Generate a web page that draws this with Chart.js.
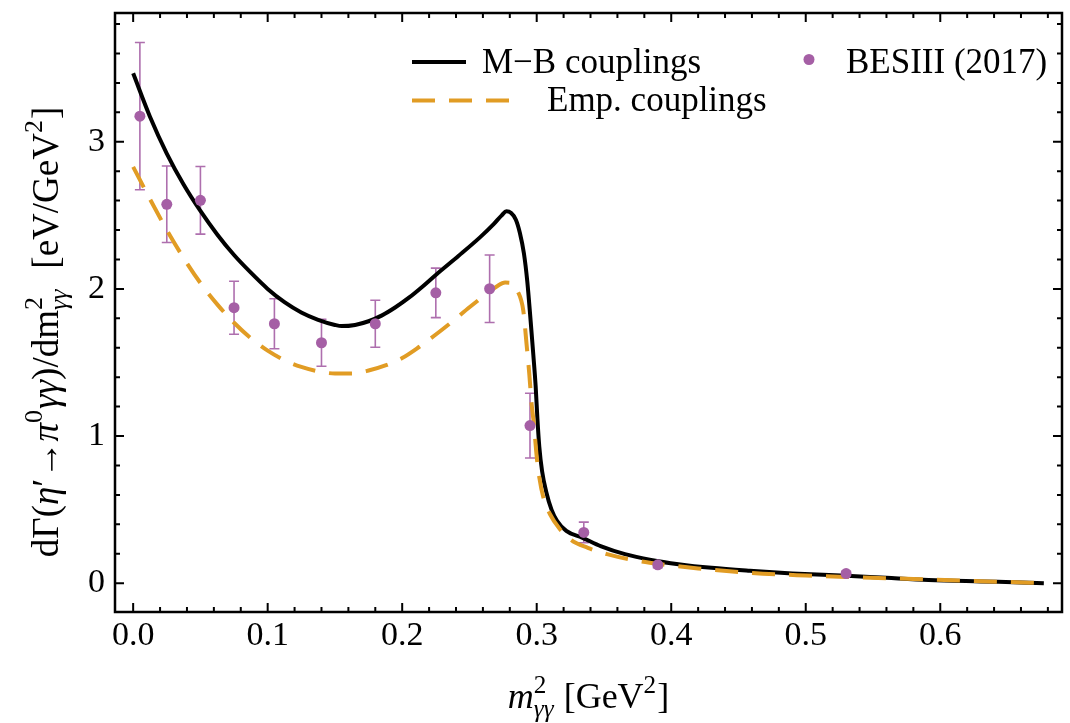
<!DOCTYPE html>
<html><head><meta charset="utf-8">
<script src="https://cdn.jsdelivr.net/npm/chart.js@4/dist/chart.umd.min.js"></script>
<style>html,body{margin:0;padding:0;background:#fff;overflow:hidden}#wrap{width:1070px;height:723px}</style>
</head><body><div id="wrap"><canvas id="c" width="1070" height="723"></canvas></div>
<script>
// ---- data ----
const mbX = [0, 0.0125, 0.025, 0.0375, 0.05, 0.0625, 0.075, 0.0875, 0.1, 0.1125, 0.125, 0.1375, 0.15, 0.155, 0.165, 0.175, 0.185, 0.195, 0.205, 0.215, 0.2256, 0.242, 0.2578, 0.268, 0.274, 0.2775, 0.281, 0.2845, 0.2875, 0.2905, 0.293, 0.2955, 0.2975, 0.2992, 0.3005, 0.3019, 0.304, 0.3071, 0.311, 0.3151, 0.322, 0.3337, 0.348, 0.3656, 0.385, 0.4054, 0.43, 0.4585, 0.49, 0.5302, 0.56, 0.5913, 0.63, 0.66, 0.677];
const mbY = [3.465, 3.17, 2.92, 2.71, 2.53, 2.37, 2.23, 2.11, 2.00, 1.91, 1.84, 1.79, 1.755, 1.747, 1.755, 1.78, 1.82, 1.875, 1.94, 2.015, 2.10, 2.225, 2.35, 2.44, 2.50, 2.527, 2.515, 2.47, 2.38, 2.24, 2.05, 1.78, 1.55, 1.34, 1.12, 0.93, 0.76, 0.62, 0.50, 0.424, 0.355, 0.31, 0.25, 0.197, 0.158, 0.129, 0.104, 0.084, 0.066, 0.050, 0.036, 0.022, 0.012, 0.005, 0.0];
const empX = [0, 0.0125, 0.025, 0.0375, 0.05, 0.0625, 0.075, 0.0875, 0.1, 0.1125, 0.125, 0.1375, 0.15, 0.1625, 0.175, 0.1875, 0.2, 0.2125, 0.225, 0.2375, 0.25, 0.2625, 0.27, 0.2765, 0.2815, 0.2855, 0.290, 0.2925, 0.2945, 0.2962, 0.2979, 0.300, 0.3019, 0.305, 0.3098, 0.317, 0.3257, 0.338, 0.3523, 0.37, 0.3921, 0.42, 0.4585, 0.5, 0.538, 0.58, 0.62, 0.65, 0.677];
const empY = [2.829, 2.61, 2.40, 2.21, 2.04, 1.895, 1.77, 1.665, 1.58, 1.515, 1.47, 1.44, 1.425, 1.425, 1.445, 1.48, 1.53, 1.605, 1.69, 1.78, 1.875, 1.965, 2.015, 2.043, 2.04, 1.99, 1.854, 1.62, 1.42, 1.22, 1.08, 0.86, 0.72, 0.58, 0.47, 0.37, 0.292, 0.24, 0.197, 0.16, 0.129, 0.10, 0.07, 0.052, 0.04, 0.028, 0.016, 0.008, 0.0];
const besX = [0.005, 0.025, 0.05, 0.075, 0.105, 0.14, 0.18, 0.225, 0.265, 0.295, 0.335, 0.39, 0.53];
const besY = [3.174, 2.575, 2.602, 1.872, 1.763, 1.634, 1.763, 1.973, 2.001, 1.071, 0.345, 0.125, 0.065];
const besErr = [0.50, 0.26, 0.23, 0.18, 0.17, 0.16, 0.16, 0.168, 0.229, 0.22, 0.07, 0.02, 0.015];
const xTickValues = [0, 0.1, 0.2, 0.3, 0.4, 0.5, 0.6];
const xTickLabels = ['0.0', '0.1', '0.2', '0.3', '0.4', '0.5', '0.6'];
const yTickValues = [0, 1, 2, 3];
const yTickLabels = ['0', '1', '2', '3'];
const seriesNames = ['M\u2212B couplings', 'Emp. couplings', 'BESIII (2017)'];

const FONT = '"Liberation Serif", "Times New Roman", serif';
const BLACK = '#000000', ORANGE = '#E19C24', PURPLE = '#A55FA5';
const DASH = [23, 14];

function pts(xs, ys) { return xs.map((x, i) => ({x: x, y: ys[i]})); }

function fnt(size, it) { return (it ? 'italic ' : '') + size + 'px ' + FONT; }
function segWidth(ctx, s, size) {
  if (s.gap !== undefined) return s.gap;
  if (s.t !== undefined) { ctx.font = fnt(size, s.it); return ctx.measureText(s.t).width; }
  let w = 0; const ss = size * 0.7;
  if (s.sup) { ctx.font = fnt(ss, false); w = Math.max(w, ctx.measureText(s.sup).width); }
  if (s.sub) { ctx.font = fnt(ss, s.subIt); w = Math.max(w, ctx.measureText(s.sub).width); }
  return w + 1;
}
function richWidth(ctx, segs, size) { return segs.reduce((a, s) => a + segWidth(ctx, s, size), 0); }
function drawRich(ctx, segs, x, y, size) {
  ctx.textBaseline = 'alphabetic'; ctx.textAlign = 'left'; ctx.fillStyle = '#000';
  for (const s of segs) {
    const w = segWidth(ctx, s, size);
    if (s.gap !== undefined) { x += w; continue; }
    if (s.t !== undefined) { ctx.font = fnt(size, s.it); ctx.fillText(s.t, x, y); }
    else {
      const ss = size * 0.7;
      if (s.sup) { ctx.font = fnt(ss, false); ctx.fillText(s.sup, x, y - size * 0.42); }
      if (s.sub) { ctx.font = fnt(ss, s.subIt); ctx.fillText(s.sub, x, y + size * 0.25); }
    }
    x += w;
  }
}
const xTitle = [{t: 'm', it: 1}, {sup: '2', sub: '\u03b3\u03b3', subIt: 1}, {t: ' [GeV'}, {sup: '2'}, {t: ']'}];
const yTitle = [{t: 'd\u0393('}, {t: '\u03b7', it: 1}, {t: '\u2032'}, {t: '\u2192'}, {t: '\u03c0', it: 1}, {sup: '0'}, {t: '\u03b3\u03b3', it: 1}, {t: ')/dm'}, {sup: '2', sub: '\u03b3\u03b3', subIt: 1}, {gap: 20}, {t: '[eV/GeV'}, {sup: '2'}, {t: ']'}];

const decor = {
  id: 'decor',
  beforeDatasetsDraw(chart) {
    const ctx = chart.ctx, xs = chart.scales.x, ys = chart.scales.y;
    ctx.save();
    ctx.strokeStyle = 'rgba(165,95,165,0.9)'; ctx.lineWidth = 1.6;
    besX.forEach((v, i) => {
      const px = xs.getPixelForValue(v);
      const t = ys.getPixelForValue(besY[i] + besErr[i]);
      const b = ys.getPixelForValue(besY[i] - besErr[i]);
      ctx.beginPath();
      ctx.moveTo(px, t); ctx.lineTo(px, b);
      ctx.moveTo(px - 5, t); ctx.lineTo(px + 5, t);
      ctx.moveTo(px - 5, b); ctx.lineTo(px + 5, b);
      ctx.stroke();
    });
    ctx.restore();
  },
  afterDraw(chart) {
    const ctx = chart.ctx, a = chart.chartArea, xs = chart.scales.x, ys = chart.scales.y;
    ctx.save();
    // inward ticks on all four sides
    ctx.strokeStyle = '#000'; ctx.lineWidth = 2;
    ctx.beginPath();
    for (let k = 0; k <= 34; k++) {
      const v = k * 0.02, px = xs.getPixelForValue(v), L = (k % 5 === 0) ? 9 : 5;
      ctx.moveTo(px, a.bottom); ctx.lineTo(px, a.bottom - L);
      ctx.moveTo(px, a.top); ctx.lineTo(px, a.top + L);
    }
    for (let k = 0; k <= 19; k++) {
      const v = k * 0.2, py = ys.getPixelForValue(v), L = (k % 5 === 0) ? 9 : 5;
      ctx.moveTo(a.left, py); ctx.lineTo(a.left + L, py);
      ctx.moveTo(a.right, py); ctx.lineTo(a.right - L, py);
    }
    ctx.stroke();
    // frame
    ctx.lineWidth = 2.5;
    ctx.strokeRect(a.left, a.top, a.right - a.left, a.bottom - a.top);
    // axis titles
    const xw = richWidth(ctx, xTitle, 36);
    drawRich(ctx, xTitle, (a.left + a.right) / 2 - xw / 2, 708, 36);
    const ts = 37;
    const yw = richWidth(ctx, yTitle, ts);
    ctx.save();
    ctx.translate(58, 332); ctx.rotate(-Math.PI / 2);
    drawRich(ctx, yTitle, -yw / 2, 0, ts);
    ctx.restore();
    // legend
    ctx.lineWidth = 4; ctx.strokeStyle = BLACK; ctx.setLineDash([]);
    ctx.beginPath(); ctx.moveTo(412, 62); ctx.lineTo(466, 62); ctx.stroke();
    ctx.strokeStyle = ORANGE; ctx.setLineDash(DASH);
    ctx.beginPath(); ctx.moveTo(412, 100.5); ctx.lineTo(517, 100.5); ctx.stroke();
    ctx.setLineDash([]);
    ctx.fillStyle = PURPLE; ctx.beginPath(); ctx.arc(809, 59.5, 5.5, 0, Math.PI * 2); ctx.fill();
    ctx.fillStyle = '#000'; ctx.font = fnt(35, false); ctx.textBaseline = 'alphabetic'; ctx.textAlign = 'left';
    ctx.fillText(seriesNames[0], 482, 73);
    ctx.fillText(seriesNames[1], 547, 111);
    ctx.fillText(seriesNames[2], 846, 73);
    ctx.restore();
  }
};

new Chart(document.getElementById('c'), {
  type: 'scatter',
  data: {
    datasets: [
      {label: seriesNames[2], data: pts(besX, besY), backgroundColor: PURPLE, borderColor: PURPLE, pointRadius: 5.5, pointBorderWidth: 0, showLine: false, order: 0},
      {label: seriesNames[0], data: pts(mbX, mbY), borderColor: BLACK, borderWidth: 4, pointRadius: 0, showLine: true, cubicInterpolationMode: 'monotone', order: 2},
      {label: seriesNames[1], data: pts(empX, empY), borderColor: ORANGE, borderWidth: 4, borderDash: DASH, pointRadius: 0, showLine: true, cubicInterpolationMode: 'monotone', order: 1}
    ]
  },
  options: {
    responsive: false, animation: false, devicePixelRatio: 1,
    layout: {padding: {top: 13, right: 8, left: 0, bottom: 0}},
    plugins: {legend: {display: false}, tooltip: {enabled: false}},
    scales: {
      x: {
        type: 'linear', min: -0.0135, max: 0.6905,
        afterBuildTicks: s => { s.ticks = xTickValues.map(v => ({value: v})); },
        afterFit: s => { s.height = 111; s.paddingLeft = 0; s.paddingRight = 0; },
        ticks: {autoSkip: false, maxRotation: 0, padding: 4, color: '#000', font: {family: FONT, size: 34},
          callback: v => xTickLabels[xTickValues.indexOf(v)]},
        grid: {display: false, drawTicks: false}, border: {display: false}
      },
      y: {
        type: 'linear', min: -0.196, max: 3.875,
        afterBuildTicks: s => { s.ticks = yTickValues.map(v => ({value: v})); },
        afterFit: s => { s.width = 115; s.paddingTop = 0; s.paddingBottom = 0; },
        ticks: {autoSkip: false, padding: 10, color: '#000', font: {family: FONT, size: 34},
          callback: v => yTickLabels[yTickValues.indexOf(v)]},
        grid: {display: false, drawTicks: false}, border: {display: false}
      }
    }
  },
  plugins: [decor]
});
</script></body></html>
